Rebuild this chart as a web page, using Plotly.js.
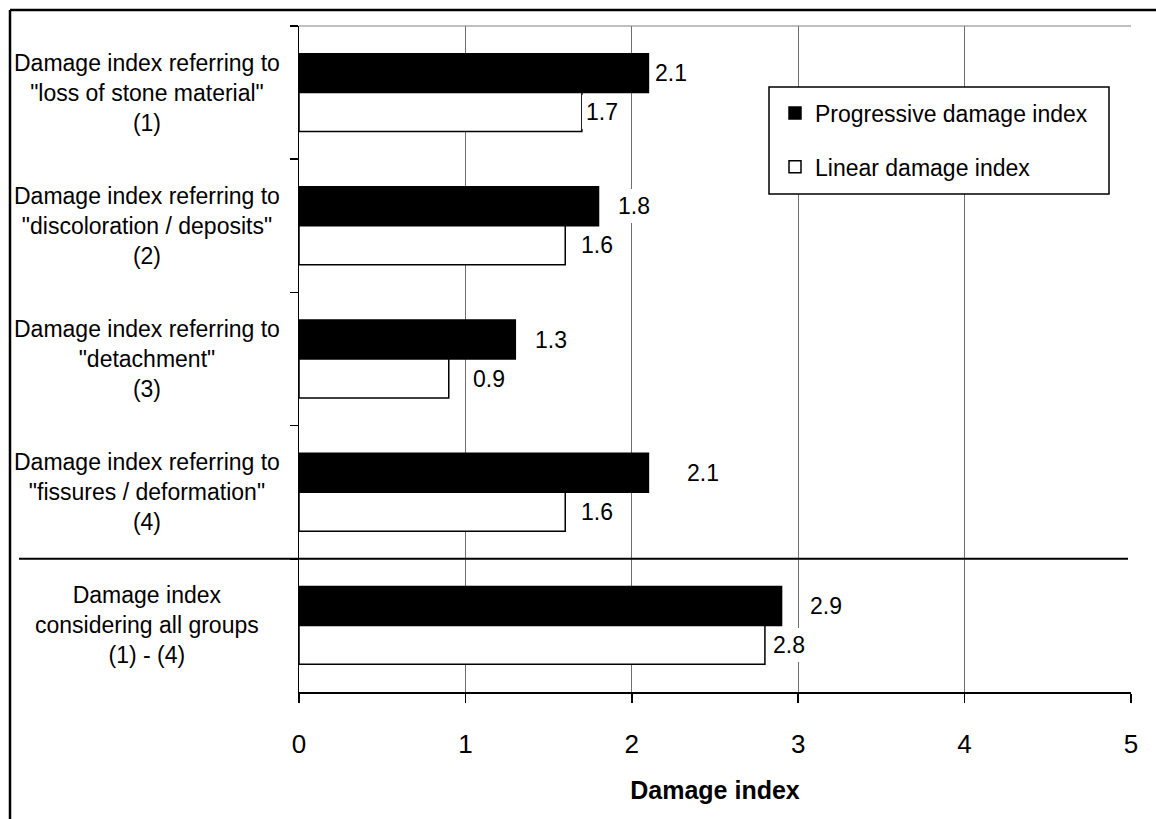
<!DOCTYPE html>
<html>
<head>
<meta charset="utf-8">
<script src="https://cdn.plot.ly/plotly-3.0.1.min.js"></script>
<style>
  html, body { margin: 0; padding: 0; background: #ffffff; }
  #chart { width: 1156px; height: 819px; }
</style>
</head>
<body>
<div id="chart"></div>
<script>
// Damage groups shown on the category axis (top to bottom)
const categories = [
  'Damage index referring to<br>"loss of stone material"<br>(1)',
  'Damage index referring to<br>"discoloration / deposits"<br>(2)',
  'Damage index referring to<br>"detachment"<br>(3)',
  'Damage index referring to<br>"fissures / deformation"<br>(4)',
  'Damage index<br>considering all groups<br>(1) - (4)'
];
const progressiveIndex = [2.1, 1.8, 1.3, 2.1, 2.9];
const linearIndex = [1.7, 1.6, 0.9, 1.6, 2.8];
const xTickValues = [0, 1, 2, 3, 4, 5];

// Horizontal gap (px) between each bar end and its value label
const progressiveLabelGap = [7, 19, 20, 39, 28];
const linearLabelGap = [4, 16, 24, 16, 8];

const FONT = 'Liberation Sans, Arial, Helvetica, sans-serif';
const W = 1156, H = 819;
const M = { l: 299, r: 25, t: 26, b: 127 };
const plotW = W - M.l - M.r, plotH = H - M.t - M.b;
const px = x => (x - M.l) / plotW;          // page x -> paper x
const py = y => (H - M.b - y) / plotH;      // page y -> paper y

const traces = [
  {
    type: 'bar', orientation: 'h', name: 'Progressive damage index',
    y: categories, x: progressiveIndex, legendgroup: 'p',
    marker: { color: '#000000', line: { color: '#000000', width: 1.5 } },
    hoverinfo: 'x'
  },
  {
    type: 'bar', orientation: 'h', name: 'Linear damage index',
    y: categories, x: linearIndex, legendgroup: 'l',
    marker: { color: '#ffffff', line: { color: '#000000', width: 1.5 } },
    hoverinfo: 'x'
  }
];

const annotations = [];
// Category labels, centred in the left column
categories.forEach(c => {
  annotations.push({
    xref: 'paper', yref: 'y', x: px(147), y: c,
    text: c, showarrow: false, align: 'center',
    xanchor: 'center', yanchor: 'middle',
    font: { family: FONT, size: 23, color: '#000' }
  });
});
// Value labels (white boxes over the grid)
const barHalfOffset = 19.5;
function valueLabel(val, cat, gap, dy) {
  return {
    xref: 'x', yref: 'y', x: val, y: cat,
    text: val.toFixed(1), showarrow: false,
    xanchor: 'left', yanchor: 'middle',
    xshift: gap - 4, yshift: dy,
    bgcolor: '#ffffff', borderpad: 4, borderwidth: 0,
    font: { family: FONT, size: 23, color: '#000' }
  };
}
categories.forEach((c, i) => {
  annotations.push(valueLabel(progressiveIndex[i], c, progressiveLabelGap[i], barHalfOffset));
  annotations.push(valueLabel(linearIndex[i], c, linearLabelGap[i], -barHalfOffset));
});

const shapes = [
  // outer chart frame (top and left edges)
  { type: 'line', xref: 'paper', yref: 'paper', x0: px(10), x1: px(1160), y0: py(10), y1: py(10),
    line: { color: '#000', width: 2.5 } },
  { type: 'line', xref: 'paper', yref: 'paper', x0: px(10), x1: px(10), y0: py(10), y1: py(830),
    line: { color: '#000', width: 2.5 } },
  // plot area top edge
  { type: 'line', xref: 'paper', yref: 'paper', x0: 0, x1: 1, y0: 1, y1: 1,
    line: { color: '#808080', width: 1 } },
  // separator between the single groups and the overall index
  { type: 'line', xref: 'paper', yref: 'y', x0: px(19), x1: px(1128), y0: 3.5, y1: 3.5,
    line: { color: '#000', width: 2 } },
  // legend frame
  { type: 'rect', xref: 'paper', yref: 'paper', layer: 'above',
    x0: px(769), x1: px(1109), y0: py(194), y1: py(87),
    fillcolor: '#ffffff', line: { color: '#000', width: 1.5 } }
];

const layout = {
  width: W, height: H,
  margin: M,
  paper_bgcolor: '#ffffff', plot_bgcolor: '#ffffff',
  font: { family: FONT, color: '#000' },
  barmode: 'group', bargap: 0.415, bargroupgap: 0,
  showlegend: true,
  legend: {
    x: px(775), y: py(91.5), xanchor: 'left', yanchor: 'top',
    bgcolor: 'rgba(0,0,0,0)', borderwidth: 0,
    font: { family: FONT, size: 23, color: '#000' },
    traceorder: 'grouped', tracegroupgap: 21
  },
  xaxis: {
    range: [0, 5], tickmode: 'array', tickvals: xTickValues,
    ticktext: xTickValues.map(String),
    showgrid: true, gridcolor: '#6e6e6e', gridwidth: 1,
    zeroline: false, showline: true, linecolor: '#000', linewidth: 1.5,
    ticks: 'outside', ticklen: 9, tickcolor: '#000', tickwidth: 1.5,
    tickfont: { family: FONT, size: 26, color: '#000' },
    ticklabelstandoff: 19,
    title: { text: '<b>Damage index</b>', font: { family: FONT, size: 25, color: '#000' }, standoff: 24 },
    fixedrange: true
  },
  yaxis: {
    type: 'category', range: [4.5, -0.5],
    showgrid: false, zeroline: false,
    showline: true, linecolor: '#000', linewidth: 1.5,
    ticks: 'outside', tickson: 'boundaries', ticklen: 8, tickcolor: '#000', tickwidth: 1.5,
    showticklabels: false, fixedrange: true
  },
  annotations: annotations,
  shapes: shapes
};

Plotly.newPlot('chart', traces, layout, { staticPlot: true });
</script>
</body>
</html>
